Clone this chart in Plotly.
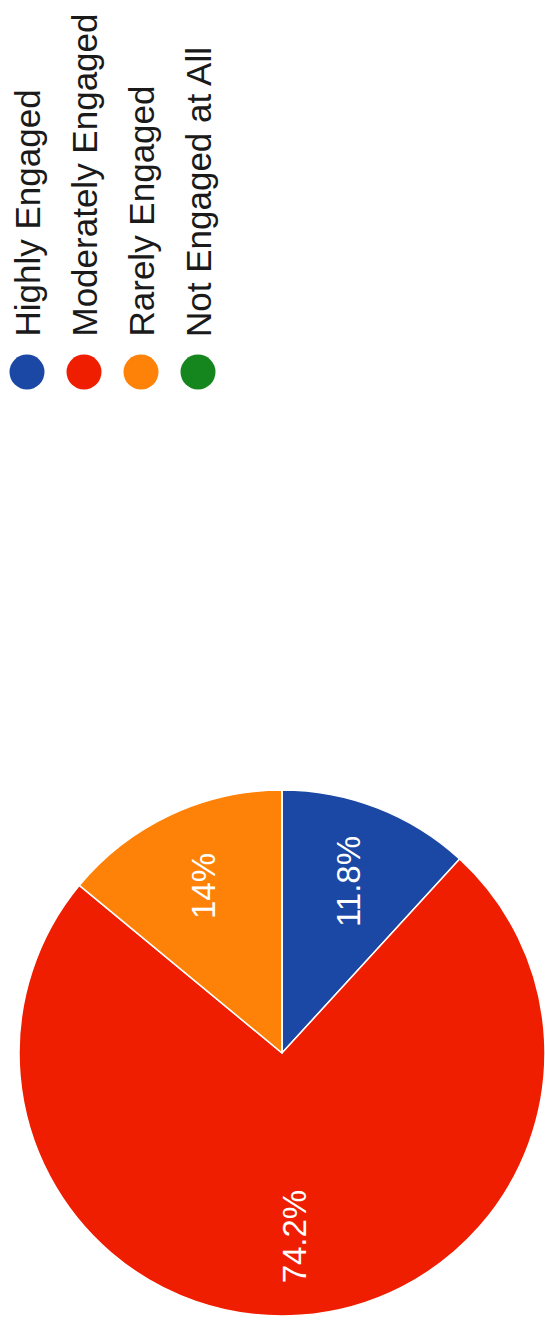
import math
import plotly.graph_objects as go

# ---- data ----
categories = ["Highly Engaged", "Moderately Engaged", "Rarely Engaged", "Not Engaged at All"]
values = [11.8, 74.2, 14.0, 0.0]
value_labels = ["11.8%", "74.2%", "14%", ""]
colors = ["#1b47a5", "#f01e00", "#ff8208", "#15861e"]

# ---- layout constants (pixels) ----
W, H = 545, 1334
CX, CY, R = 282, 1053, 263        # pie centre / radius
LABEL_R = 0.70                    # label radius fraction
LEG_X0, LEG_DX, LEG_Y = 27, 57, 372  # legend circle positions
LEG_TEXT_Y = 338
FONT = "Arial, Liberation Sans, sans-serif"

fig = go.Figure()

fig.add_trace(go.Pie(
    labels=categories, values=values, sort=False, direction="clockwise",
    rotation=0, marker=dict(colors=colors, line=dict(color="white", width=1.5)),
    textinfo="none", hoverinfo="label+percent", showlegend=False,
    domain=dict(x=[(CX - R) / W, min(1.0, (CX + R) / W)],
                y=[(H - CY - R) / H, (H - CY + R) / H]),
))

# legend markers (custom, rotated layout)
leg_x = [LEG_X0 + i * LEG_DX for i in range(len(categories))]
fig.add_trace(go.Scatter(
    x=leg_x, y=[LEG_Y] * len(categories), mode="markers",
    marker=dict(size=35, color=colors, line=dict(width=0)),
    hoverinfo="skip", showlegend=False,
))

annotations = []
for xi, name in zip(leg_x, categories):
    annotations.append(dict(
        x=xi, y=LEG_TEXT_Y, xref="x", yref="y", text=name, textangle=-90,
        showarrow=False, xanchor="center", yanchor="bottom", borderpad=0,
        font=dict(family=FONT, size=35, color="#1a1a1a"),
    ))

# slice labels, rotated
total = sum(values)
cum = 0.0
for v, lab in zip(values, value_labels):
    mid = (cum + v / 2) / total * 2 * math.pi
    cum += v
    if not lab:
        continue
    px = CX + LABEL_R * R * math.sin(mid)
    py = CY - LABEL_R * R * math.cos(mid)
    annotations.append(dict(
        x=px, y=py, xref="x", yref="y", text=lab, textangle=-90,
        showarrow=False, xanchor="center", yanchor="middle", borderpad=0,
        font=dict(family=FONT, size=33, color="white"),
    ))

fig.update_layout(
    width=W, height=H, margin=dict(l=0, r=0, t=0, b=0),
    paper_bgcolor="white", plot_bgcolor="rgba(0,0,0,0)",
    xaxis=dict(range=[0, W], visible=False, fixedrange=True),
    yaxis=dict(range=[H, 0], visible=False, fixedrange=True),
    annotations=annotations,
)

fig.write_html(
    "out.html",
    config={"displayModeBar": False},
    post_script="document.body.style.margin='0';document.body.style.overflow='hidden';",
)
